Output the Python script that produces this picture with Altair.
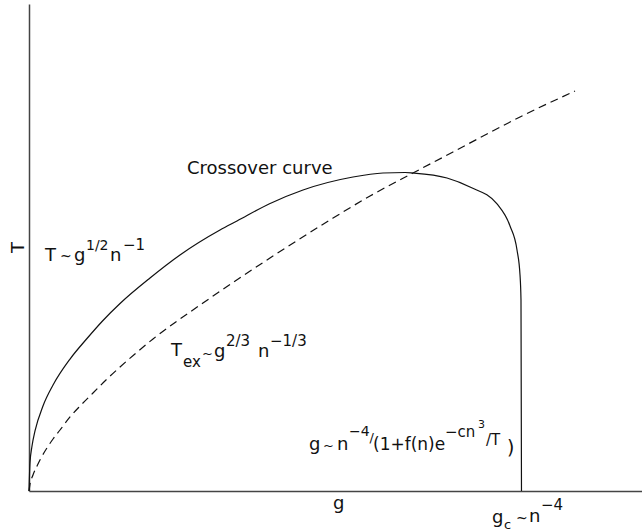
import altair as alt
import pandas as pd

# Crossover curve T(g): rises like g^(1/2), turns over, then drops straight down at g_c
cross_g = [0.0, 0.016, 0.049, 0.098, 0.228, 0.392, 0.669, 0.946, 1.207, 1.485,
           1.974, 2.463, 3.116, 3.393, 3.915, 4.470, 5.285, 5.775, 6.134, 6.264,
           6.819, 7.194, 7.635, 7.847, 7.961, 8.010, 8.026, 8.034]
cross_T = [0.0, 0.460, 0.739, 0.986, 1.396, 1.741, 2.168, 2.505, 2.801, 3.080,
           3.499, 3.877, 4.287, 4.435, 4.715, 4.945, 5.158, 5.224, 5.232, 5.224,
           5.142, 4.994, 4.715, 4.353, 3.959, 3.548, 3.138, 0.0]

# Excitation temperature T_ex ~ g^(2/3) n^(-1/3)
ex_g = [0.0, 0.016, 0.065, 0.131, 0.179, 0.392, 0.506, 0.669, 0.832, 1.044,
        1.272, 1.485, 2.023, 2.838, 3.931, 4.910, 5.563, 6.264, 6.917, 7.471,
        8.010, 8.907]
ex_T = [0.0, 0.107, 0.263, 0.411, 0.509, 0.854, 1.002, 1.216, 1.396, 1.610,
        1.840, 2.037, 2.497, 3.088, 3.828, 4.452, 4.846, 5.224, 5.569, 5.864,
        6.144, 6.571]

G_MAX = 10.0
T_MAX = 8.0
PAD_LEFT = 29
PAD_TOP = 4
PLOT_W = 613
PLOT_H = 487

FONT = "DejaVu Sans"
INK = "#111111"

cross_df = pd.DataFrame({"g": cross_g, "T": cross_T, "i": range(len(cross_g))})
ex_df = pd.DataFrame({"g": ex_g, "T": ex_T, "i": range(len(ex_g))})

axis_style = dict(domain=True, ticks=False, labels=False, grid=False, title=None,
                  domainColor="#444444", domainWidth=1.5)

x_enc = alt.X("g:Q", scale=alt.Scale(domain=[0, G_MAX], nice=False, zero=True),
              axis=alt.Axis(**axis_style))
y_enc = alt.Y("T:Q", scale=alt.Scale(domain=[0, T_MAX], nice=False, zero=True),
              axis=alt.Axis(**axis_style))

solid = alt.Chart(cross_df).mark_line(
    color=INK, strokeWidth=1.2, interpolate="monotone", clip=False
).encode(x=x_enc, y=y_enc, order="i:Q")

dashed = alt.Chart(ex_df).mark_line(
    color=INK, strokeWidth=1.2, strokeDash=[8, 5], interpolate="monotone", clip=False
).encode(x=x_enc, y=y_enc, order="i:Q")

# Text pieces: (text, left x, baseline y, font size) in page pixels;
# superscripts and subscripts are separate pieces
pieces = [
    ("Crossover curve", 187, 174, 18),
    # T ~ g^{1/2} n^{-1}
    ("T", 45, 261, 18), ("~", 60, 261, 14), ("g", 74, 261, 18),
    ("1/2", 86, 250, 14), ("n", 110, 261, 18), ("\u22121", 123, 250, 15),
    # T_ex ~ g^{2/3} n^{-1/3}
    ("T", 171, 356, 18), ("ex", 183, 367, 15), ("~", 202, 358, 13),
    ("g", 214, 357, 18), ("2/3", 226, 346, 15), ("n", 258, 357, 18),
    ("\u22121/3", 270, 346, 15),
    # g ~ n^{-4}/(1+f(n)e^{-cn^3/T})
    ("g", 309, 450, 18), ("~", 323, 450, 13), ("n", 337, 450, 18),
    ("\u22124", 349, 436, 14), ("/", 369.5, 442, 13), ("(1+f(n)e", 373, 450, 17),
    ("\u2212cn", 445, 437, 15), ("3", 478, 428, 11), ("/T", 486, 445, 15),
    (")", 507, 454, 19),
    # axis label g and g_c ~ n^{-4}
    ("g", 333, 509, 18),
    ("g", 492, 523, 18), ("c", 504, 529, 13), ("~", 516, 523, 14),
    ("n", 529, 522, 18), ("\u22124", 541, 510, 15),
]

texts = []
for txt, px, py, fs in pieces:
    texts.append(
        alt.Chart(alt.Data(values=[{}])).mark_text(
            font=FONT, fontSize=fs, color=INK, align="left", baseline="alphabetic"
        ).encode(
            x=alt.value(px - PAD_LEFT), y=alt.value(py - PAD_TOP), text=alt.value(txt)
        )
    )

# Vertical axis label T, reading bottom to top
texts.append(
    alt.Chart(alt.Data(values=[{}])).mark_text(
        font=FONT, fontSize=18, color=INK, align="center", baseline="alphabetic", angle=270
    ).encode(x=alt.value(24 - PAD_LEFT), y=alt.value(247.5 - PAD_TOP), text=alt.value("T"))
)

chart = alt.layer(solid, dashed, *texts).properties(
    width=PLOT_W,
    height=PLOT_H,
    autosize=alt.AutoSizeParams(type="none"),
    padding={"left": PAD_LEFT, "top": PAD_TOP, "right": 0, "bottom": 531 - PAD_TOP - PLOT_H},
    background="white",
).configure_view(strokeWidth=0)

chart.save("out.html", embed_options={"renderer": "svg", "actions": False})
